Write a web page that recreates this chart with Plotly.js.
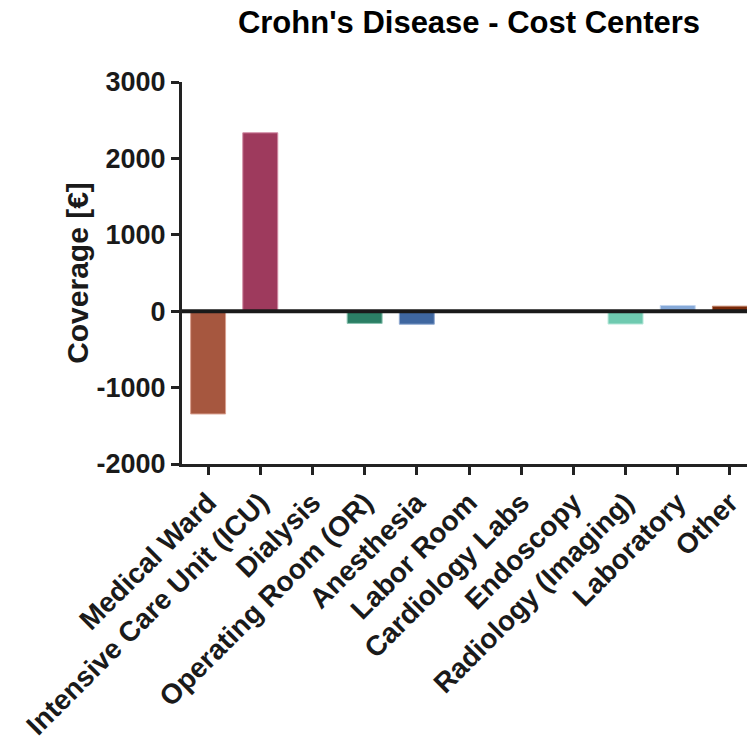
<!DOCTYPE html>
<html>
<head>
<meta charset="utf-8">
<script src="https://cdn.plot.ly/plotly-3.0.1.min.js"></script>
<style>html,body{margin:0;padding:0;overflow:hidden;background:#fff;}</style>
</head>
<body>
<div id="chart" style="width:760px;height:740px;"></div>
<script>
const categories = ["Medical Ward", "Intensive Care Unit (ICU)", "Dialysis", "Operating Room (OR)", "Anesthesia", "Labor Room", "Cardiology Labs", "Endoscopy", "Radiology (Imaging)", "Laboratory", "Other"];
const coverage = [-1345, 2335, 0, -160, -170, 0, 0, 0, -168, 75, 65];
const barColors = ["#A6573F", "#9E3A5D", "#888888", "#2B7F65", "#3F67A0", "#888888", "#888888", "#888888", "#6FCAB0", "#86A9D8", "#7A2A0A"];
const outlineColors = ["#D9A08F", "#D28AA4", "#cccccc", "#8CC4B2", "#8FA9D0", "#cccccc", "#cccccc", "#cccccc", "#B8E8DA", "#C2D5EE", "#B97A60"];
const yTicks = [-2000, -1000, 0, 1000, 2000, 3000];

const font = {family: "Liberation Sans, Arial, sans-serif", color: "#1a1a1a", weight: "bold"};

const trace = {
  type: "bar",
  x: categories,
  y: coverage,
  marker: {color: barColors, line: {color: outlineColors, width: 1}},
  width: 0.67,
  hoverinfo: "x+y"
};

const layout = {
  width: 760, height: 740,
  margin: {l: 182, r: 4, t: 82, b: 276},
  paper_bgcolor: "#fff", plot_bgcolor: "#fff",
  showlegend: false,
  title: {text: "Crohn's Disease - Cost Centers", x: 0.5, xref: "paper", xanchor: "center", y: 0.970, yref: "container", yanchor: "middle",
          font: Object.assign({}, font, {size: 31, color: "#000"})},
  xaxis: {
    type: "category", range: [-0.5, 10.5],
    tickangle: -45, tickfont: Object.assign({}, font, {size: 28}),
    showline: true, linecolor: "#222", linewidth: 3,
    ticks: "outside", ticklen: 8, tickwidth: 3, tickcolor: "#222",
    showgrid: false, zeroline: false, fixedrange: true
  },
  yaxis: {
    range: [-2000, 3000], tickvals: yTicks, ticktext: yTicks.map(String),
    tickfont: Object.assign({}, font, {size: 27}),
    showline: true, linecolor: "#222", linewidth: 3,
    ticks: "outside", ticklen: 8, tickwidth: 3, tickcolor: "#222",
    showgrid: false, zeroline: false, fixedrange: true,
    title: {text: "Coverage [€]", font: Object.assign({}, font, {size: 30}), standoff: 0}
  },
  shapes: [{type: "line", xref: "paper", x0: 0, x1: 1, yref: "y", y0: 0, y1: 0, layer: "above", line: {color: "#1a1a1a", width: 4}}]
};

Plotly.newPlot("chart", [trace], layout, {displayModeBar: false, staticPlot: true});
</script>
</body>
</html>
